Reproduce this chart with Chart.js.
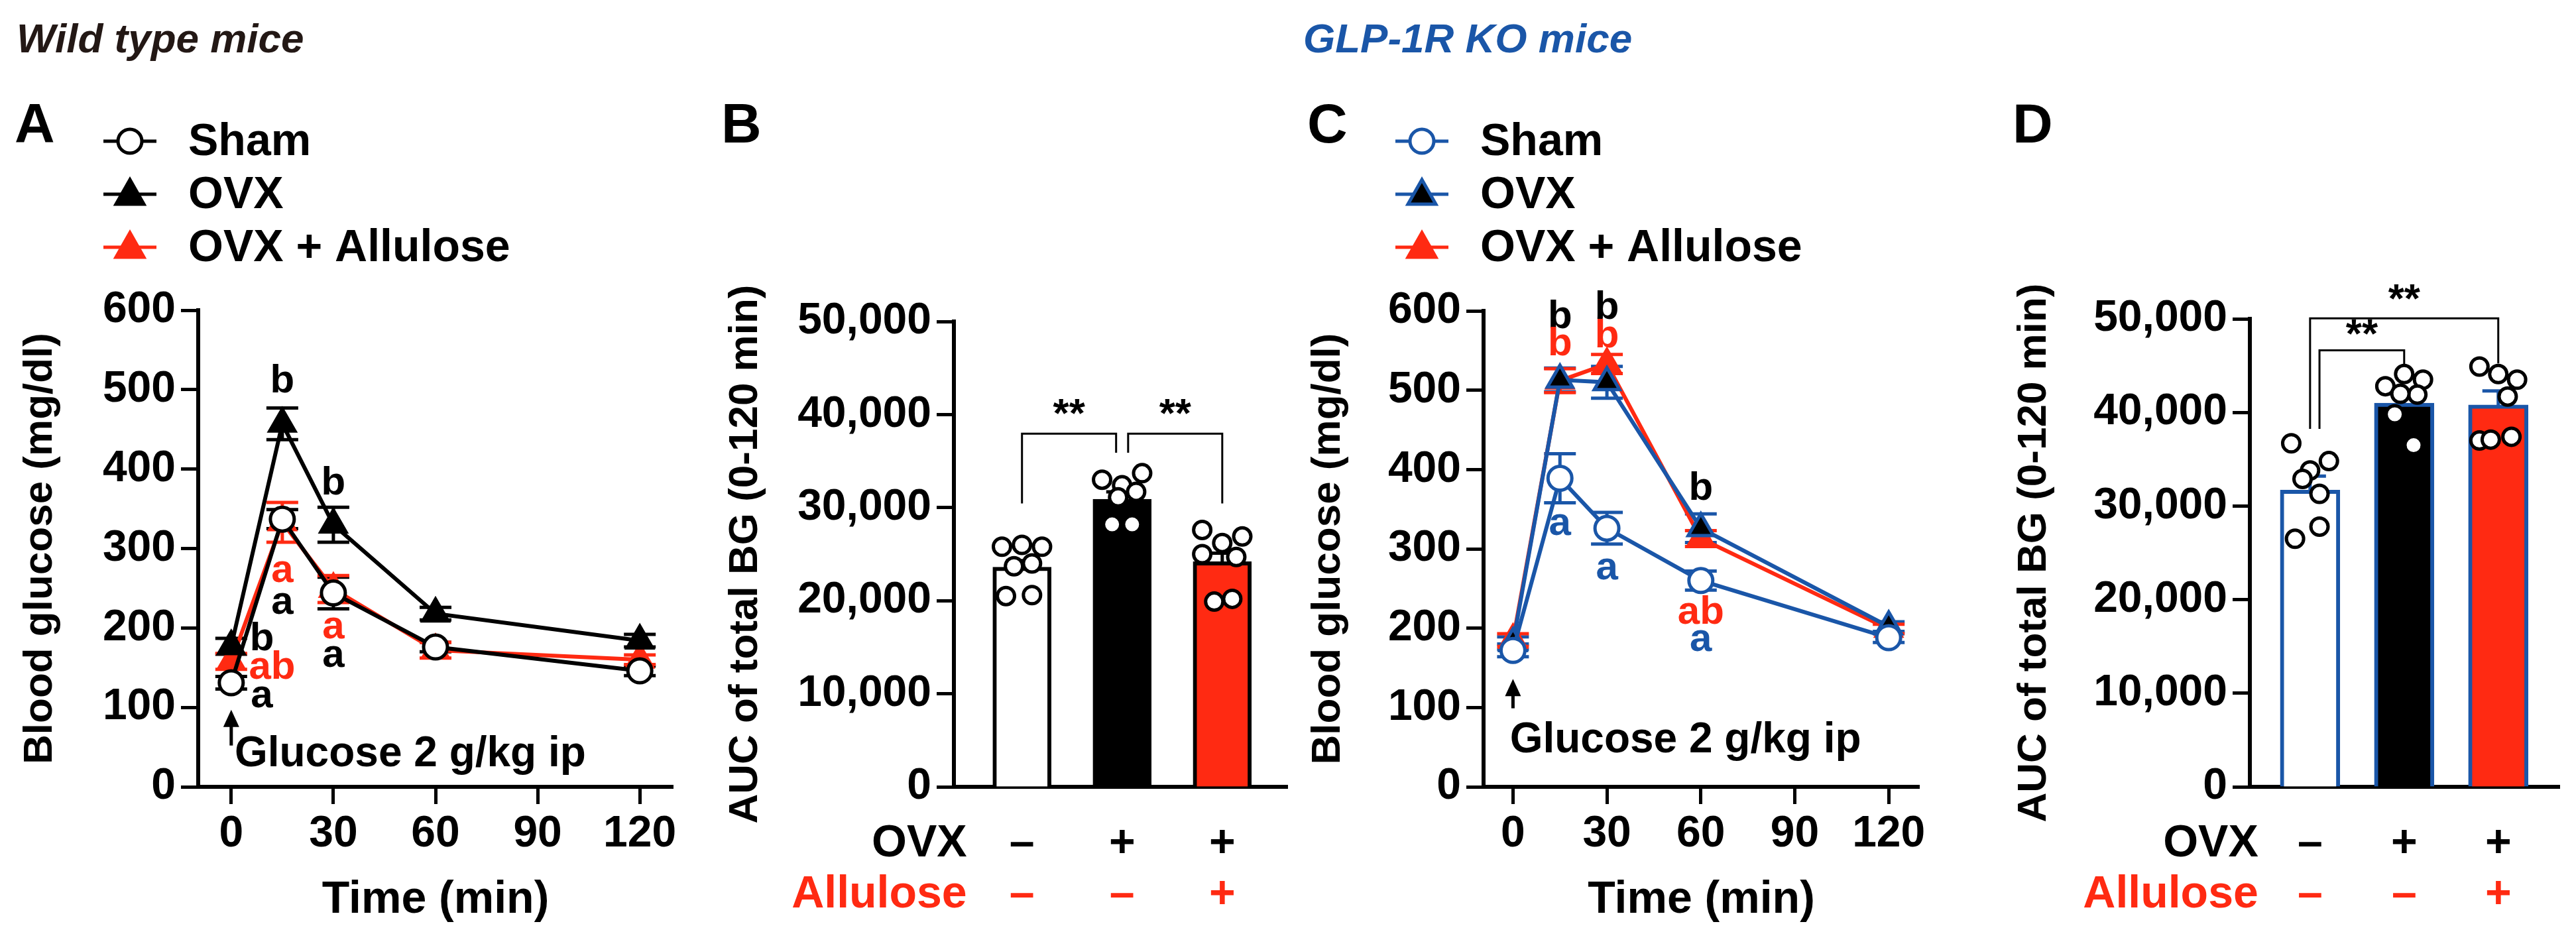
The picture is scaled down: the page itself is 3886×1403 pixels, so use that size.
<!DOCTYPE html>
<html lang="en">
<head>
<meta charset="UTF-8">
<title>OGTT Wild type vs GLP-1R KO</title>
<script src="https://cdn.jsdelivr.net/npm/chart.js"></script>
<style>
  body { margin: 0; width: 3886px; height: 1403px; background: #fff; position: relative; overflow: hidden; }
  .abs { position: absolute; }
  .title { font: italic bold 62px "Liberation Sans Narrow", "Liberation Sans", Arial, sans-serif; top: 22px; }
  .letter { font: bold 84px "Liberation Sans", Arial, sans-serif; top: 138px; }
  canvas { position: absolute; top: 0; }
</style>
</head>
<body>
<div class="abs title" style="left:25px;color:#231815">Wild type mice</div>
<div class="abs title" style="left:1966px;color:#1a56a8">GLP-1R KO mice</div>
<div class="abs letter" style="left:22px">A</div>
<div class="abs letter" style="left:1088px">B</div>
<div class="abs letter" style="left:1972px">C</div>
<div class="abs letter" style="left:3036px">D</div>
<canvas id="cA" width="1050" height="1403" style="left:0px"></canvas>
<canvas id="cB" width="880" height="1403" style="left:1080px"></canvas>
<canvas id="cC" width="1060" height="1403" style="left:1943px"></canvas>
<canvas id="cD" width="880" height="1403" style="left:3020px"></canvas>
<script>
const RED = '#ff2a12', BLUE = '#1a56a8', BLACK = '#000';
const NARROW = '"Liberation Sans Narrow", "Liberation Sans", Arial, sans-serif';

// time course
const times = [0, 15, 30, 60, 120];
const timeTicks = [0, 30, 60, 90, 120];
const wtSham = [131, 337, 244, 176, 146];
const wtSham_se = [8, 12, 20, 6, 6];
const wtOvx = [177, 457, 330, 218, 184];
const wtOvx_se = [10, 20, 22, 8, 8];
const wtAllu = [158, 333, 249, 172, 160];
const wtAllu_se = [10, 25, 17, 10, 6];

const koSham = [172, 389, 326, 260, 188];
const koSham_se = [8, 31, 20, 12, 6];
const koOvx = [181, 513, 510, 326, 202];
const koOvx_se = [8, 15, 20, 18, 6];
const koAllu = [185, 512, 533, 313, 199];
const koAllu_se = [8, 15, 12, 10, 6];

// AUC
const groups = ['Sham', 'OVX', 'OVX + Allulose'];
const ovxSigns = ['–', '+', '+'];
const alluSigns = ['–', '–', '+'];
const wtAuc = [23600, 30900, 24200];
const wtAuc_se = [700, 800, 900];
const koAuc = [31700, 41000, 40800];
const koAuc_se = [1500, 1000, 1500];
const jitter = [[-0.2, 0, 0.2, -0.08, 0.1, -0.16, 0.1], [-0.2, 0, 0.2, 0.14, -0.1, 0.1, -0.04], [-0.2, 0, 0.2, -0.2, 0.14, -0.08, 0.1]];
const wtDots = [[25800, 26000, 25800, 23700, 24000, 20500, 20600],
                [33000, 32400, 33700, 31700, 28200, 28200, 31100],
                [27600, 26200, 26900, 25000, 24700, 19900, 20200]];
const koDots = [[36700, 33800, 34800, 32900, 31300, 26500, 27800],
                [42800, 44100, 43500, 41900, 39800, 36500, 42000],
                [44900, 44100, 43500, 37000, 37400, 37100, 41700]];

// significance letters (x in min, y in mg/dl)
const wtNotes = [
  {x: 15, y: 510, t: 'b', c: BLACK}, {x: 15, y: 272, t: 'a', c: RED}, {x: 15, y: 232, t: 'a', c: BLACK},
  {x: 30, y: 382, t: 'b', c: BLACK}, {x: 30, y: 201, t: 'a', c: RED}, {x: 30, y: 165, t: 'a', c: BLACK},
  {x: 9, y: 186, t: 'b', c: BLACK}, {x: 12, y: 150, t: 'ab', c: RED}, {x: 9, y: 114, t: 'a', c: BLACK}
];
const koNotes = [
  {x: 15, y: 592, t: 'b', c: BLACK}, {x: 15, y: 558, t: 'b', c: RED}, {x: 15, y: 331, t: 'a', c: BLUE},
  {x: 30, y: 604, t: 'b', c: BLACK}, {x: 30, y: 568, t: 'b', c: RED}, {x: 30, y: 275, t: 'a', c: BLUE},
  {x: 60, y: 376, t: 'b', c: BLACK}, {x: 60, y: 219, t: 'ab', c: RED}, {x: 60, y: 185, t: 'a', c: BLUE}
];

const extras = {
  id: 'extras',
  beforeDatasetsDraw(chart) {
    const o = chart.options.plugins.extras, ctx = chart.ctx, ys = chart.scales.y;
    if (!o.errors) return;
    ctx.save();
    o.errors.forEach((e, i) => {
      if (!e) return;
      const meta = chart.getDatasetMeta(i);
      const vals = chart.data.datasets[i].data;
      ctx.strokeStyle = o.errColors[i]; ctx.lineWidth = 5;
      meta.data.forEach((el, j) => {
        const v = typeof vals[j] === 'object' ? vals[j].y : vals[j];
        const hi = ys.getPixelForValue(v + e[j]);
        const lo = o.upOnly ? ys.getPixelForValue(v) : ys.getPixelForValue(v - e[j]);
        const w = o.capW;
        ctx.beginPath();
        ctx.moveTo(el.x, lo); ctx.lineTo(el.x, hi);
        ctx.moveTo(el.x - w, hi); ctx.lineTo(el.x + w, hi);
        if (!o.upOnly) { ctx.moveTo(el.x - w, lo); ctx.lineTo(el.x + w, lo); }
        ctx.stroke();
      });
    });
    ctx.restore();
  },
  afterDraw(chart) {
    const o = chart.options.plugins.extras, ctx = chart.ctx;
    const xs = chart.scales.x, ys = chart.scales.y;
    ctx.save();
    ctx.textAlign = 'center'; ctx.textBaseline = 'middle';
    (o.notes || []).forEach(n => {
      ctx.fillStyle = n.c; ctx.font = 'bold 60px ' + NARROW;
      ctx.fillText(n.t, xs.getPixelForValue(n.x), ys.getPixelForValue(n.y));
    });
    if (o.arrow) {
      const x = xs.getPixelForValue(0), y1 = ys.getPixelForValue(o.arrow[0]), y2 = ys.getPixelForValue(o.arrow[1]);
      ctx.strokeStyle = BLACK; ctx.fillStyle = BLACK; ctx.lineWidth = 5;
      ctx.beginPath(); ctx.moveTo(x, y1); ctx.lineTo(x, y2 + 14); ctx.stroke();
      ctx.beginPath(); ctx.moveTo(x, y2); ctx.lineTo(x - 12, y2 + 26); ctx.lineTo(x + 12, y2 + 26); ctx.closePath(); ctx.fill();
      ctx.textAlign = 'left';
      ctx.font = 'bold 64px ' + NARROW;
      ctx.fillText('Glucose 2 g/kg ip', xs.getPixelForValue(o.arrowText[0]), ys.getPixelForValue(o.arrowText[1]));
      ctx.textAlign = 'center';
    }
    (o.brackets || []).forEach(b => {
      const x1 = xs.getPixelForValue(b.x1), x2 = xs.getPixelForValue(b.x2), y = ys.getPixelForValue(b.y);
      ctx.strokeStyle = BLACK; ctx.lineWidth = 3;
      ctx.beginPath();
      ctx.moveTo(x1, ys.getPixelForValue(b.yl)); ctx.lineTo(x1, y); ctx.lineTo(x2, y); ctx.lineTo(x2, ys.getPixelForValue(b.yr));
      ctx.stroke();
      ctx.fillStyle = BLACK; ctx.font = 'bold 62px Liberation Sans, Arial';
      ctx.fillText('**', (x1 + x2) / 2, ys.getPixelForValue(b.ly));
    });
    if (o.rows) {
      ctx.font = 'bold 68px ' + NARROW;
      const yb = chart.chartArea.bottom;
      [['OVX', ovxSigns, BLACK, 86], ['Allulose', alluSigns, RED, 163]].forEach(r => {
        ctx.fillStyle = r[2];
        ctx.textAlign = 'right';
        ctx.fillText(r[0], xs.getPixelForValue(o.rows), yb + r[3]);
        ctx.textAlign = 'center';
        r[1].forEach((s, i) => ctx.fillText(s, xs.getPixelForValue(i), yb + r[3]));
      });
    }
    if (o.legend) {
      const lg = o.legend;
      chart.data.datasets.forEach((d, i) => {
        const y = lg.y + i * lg.dy;
        ctx.strokeStyle = d.borderColor; ctx.lineWidth = 5;
        ctx.beginPath(); ctx.moveTo(lg.x, y); ctx.lineTo(lg.x + 80, y); ctx.stroke();
        ctx.fillStyle = d.pointBackgroundColor; ctx.strokeStyle = d.pointBorderColor; ctx.lineWidth = 5;
        ctx.beginPath();
        if (d.pointStyle === 'circle') ctx.arc(lg.x + 40, y, 18, 0, Math.PI * 2);
        else { ctx.moveTo(lg.x + 40, y - 22); ctx.lineTo(lg.x + 61, y + 15); ctx.lineTo(lg.x + 19, y + 15); ctx.closePath(); }
        ctx.fill(); ctx.stroke();
        ctx.fillStyle = BLACK; ctx.textAlign = 'left'; ctx.font = 'bold 68px ' + NARROW;
        ctx.fillText(groups[i], lg.x + 128, y + 2);
      });
    }
    ctx.restore();
  }
};

function axisY(max, step, width, title, tpad) {
  return {
    min: 0, max: max,
    ticks: { stepSize: step, color: BLACK, padding: 8, font: { size: 66, weight: 'bold', family: NARROW } },
    grid: { drawOnChartArea: false, tickLength: 26, tickWidth: 5, color: BLACK },
    border: { width: 6, color: BLACK },
    title: { display: true, text: title, color: BLACK, padding: { top: tpad, bottom: 0 },
             font: { size: 62, weight: 'bold', family: 'Liberation Sans, Arial' } },
    afterFit(s) { s.width = width; }
  };
}

function lineChart(id, sets, errs, errColors, notes, xmin, xmax, ywidth, tpad, arrow, arrowText, pad) {
  return new Chart(document.getElementById(id), {
    type: 'line',
    data: { datasets: sets },
    plugins: [extras],
    options: {
      responsive: false, animation: false, devicePixelRatio: 1,
      layout: { padding: pad },
      plugins: { legend: { display: false }, tooltip: { enabled: false },
        extras: { errors: errs, errColors: errColors, capW: 24, notes: notes, arrow: arrow, arrowText: arrowText,
                  legend: { x: pad.lx, y: 213, dy: 80 } } },
      scales: {
        x: { type: 'linear', min: xmin, max: xmax,
             afterBuildTicks(s) { s.ticks = timeTicks.map(v => ({ value: v })); },
             ticks: { color: BLACK, padding: 6, font: { size: 66, weight: 'bold', family: NARROW } },
             grid: { drawOnChartArea: false, tickLength: 26, tickWidth: 5, color: BLACK },
             border: { width: 6, color: BLACK },
             title: { display: true, text: 'Time (min)', color: BLACK, padding: { top: 4 },
                      font: { size: 68, weight: 'bold', family: NARROW } },
             afterFit(s) { s.height = 216; } },
        y: axisY(600, 100, ywidth, 'Blood glucose (mg/dl)', tpad)
      }
    }
  });
}

function mk(label, vals, line, fill, border, style, order) {
  return { label: label, data: times.map((t, i) => ({ x: t, y: vals[i] })), borderColor: line, borderWidth: 6,
           pointStyle: style, pointRadius: style === 'circle' ? 18 : 22, pointBackgroundColor: fill,
           pointBorderColor: border, pointBorderWidth: 5, order: order, clip: false };
}

lineChart('cA', [
  mk('Sham', wtSham, BLACK, '#fff', BLACK, 'circle', 0),
  mk('OVX', wtOvx, BLACK, BLACK, BLACK, 'triangle', 1),
  mk('OVX + Allulose', wtAllu, RED, RED, RED, 'triangle', 2)
], [wtSham_se, wtOvx_se, wtAllu_se], [BLACK, BLACK, RED], wtNotes, -9.7, 129.7, 299, 24, [52, 97], [1, 41],
  { top: 468, right: 35, lx: 156 });

lineChart('cC', [
  mk('Sham', koSham, BLUE, '#fff', BLUE, 'circle', 0),
  mk('OVX', koOvx, BLUE, BLACK, BLUE, 'triangle', 1),
  mk('OVX + Allulose', koAllu, RED, RED, RED, 'triangle', 2)
], [koSham_se, koOvx_se, koAllu_se], [BLUE, BLUE, RED], koNotes, -9.4, 129.7, 295, 24, [99, 136], [-1, 58],
  { top: 469, right: 108, lx: 162 });

function barChart(id, auc, se, dots, borders, ywidth, tpad, xmin, xmax, top, right, thick, brackets) {
  const sets = [{ type: 'bar', data: auc.map((v, i) => ({ x: i, y: v })), backgroundColor: ['#fff', BLACK, RED],
                  borderColor: borders, borderWidth: 6, barThickness: thick, order: 2 }];
  dots.forEach((d, g) => sets.push({ type: 'scatter', data: d.map((v, k) => ({ x: g + jitter[g][k], y: v })),
    pointRadius: 13, pointBackgroundColor: '#fff', pointBorderColor: BLACK, pointBorderWidth: 5, order: 0, clip: false }));
  return new Chart(document.getElementById(id), {
    data: { datasets: sets },
    plugins: [extras],
    options: {
      responsive: false, animation: false, devicePixelRatio: 1,
      layout: { padding: { top: top, right: right } },
      plugins: { legend: { display: false }, tooltip: { enabled: false },
        extras: { errors: [se], errColors: [borders[0]], capW: 24, upOnly: true, brackets: brackets, rows: -0.55 } },
      scales: {
        x: { type: 'linear', min: xmin, max: xmax, offset: false,
             ticks: { display: false }, grid: { display: false },
             border: { width: 6, color: BLACK },
             afterFit(s) { s.height = 216; } },
        y: axisY(50000, 10000, ywidth, 'AUC of total BG (0-120 min)', tpad)
      }
    }
  });
}

barChart('cB', wtAuc, wtAuc_se, wtDots, [BLACK, BLACK, BLACK], 359, 8, -0.68, 2.65, 485, 14, 88,
  [{ x1: 0, x2: 0.94, y: 37950, yl: 30450, yr: 35900, ly: 39900 },
   { x1: 1.06, x2: 2, y: 37950, yl: 35900, yr: 30450, ly: 39900 }]);
barChart('cD', koAuc, koAuc_se, koDots, [BLUE, BLUE, BLUE], 374, 12, -0.64, 2.65, 481, 39, 90,
  [{ x1: 0, x2: 2, y: 50060, yl: 38250, yr: 45230, ly: 51900 },
   { x1: 0.1, x2: 1, y: 46630, yl: 38250, yr: 44920, ly: 48200 }]);
</script>
</body>
</html>
